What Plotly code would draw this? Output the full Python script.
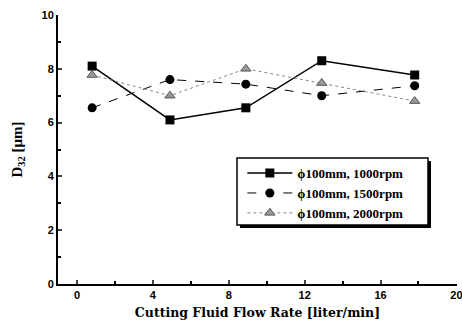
import plotly.graph_objects as go

flow_rate = [0.8, 4.9, 8.9, 12.9, 17.8]
d32_1000 = [8.1, 6.1, 6.55, 8.3, 7.77]
d32_1500 = [6.55, 7.6, 7.43, 7.0, 7.37]
d32_2000 = [7.77, 7.0, 8.0, 7.47, 6.8]
names = ["ϕ100mm, 1000rpm", "ϕ100mm, 1500rpm", "ϕ100mm, 2000rpm"]

SERIF = "Liberation Serif"
SANS = "Liberation Sans"

fig = go.Figure()
fig.add_trace(go.Scatter(x=flow_rate, y=d32_1000, name=names[0], mode="lines+markers",
                         line=dict(color="black", width=1.5),
                         marker=dict(symbol="square", size=9, color="black")))
fig.add_trace(go.Scatter(x=flow_rate, y=d32_1500, name=names[1], mode="lines+markers",
                         line=dict(color="black", width=1, dash="dash"),
                         marker=dict(symbol="circle", size=9, color="black")))
fig.add_trace(go.Scatter(x=flow_rate, y=d32_2000, name=names[2], mode="lines+markers",
                         line=dict(color="#888888", width=1, dash="dot"),
                         marker=dict(symbol="triangle-up", size=9, color="#999999",
                                     line=dict(color="#555555", width=1))))

fig.update_layout(
    width=462, height=329,
    margin=dict(l=58, r=5, t=15, b=45, autoexpand=False),
    paper_bgcolor="white", plot_bgcolor="white",
    font=dict(family=SERIF, size=11, color="black"),
    xaxis=dict(range=[-1, 20.03], tickvals=[0, 4, 8, 12, 16, 20], ticks="inside", ticklen=4,
               tickwidth=1.5, showline=True, linecolor="black", linewidth=2, showgrid=False,
               zeroline=False, tickfont=dict(family=SANS, size=11, weight="bold"),
               ticklabeloverflow="allow", automargin=False,
               minor=dict(tickvals=[2, 6, 10, 14, 18], ticks="inside", ticklen=3, tickcolor="black"),
               title=dict(text="Cutting Fluid Flow Rate [liter/min]", standoff=8,
                          font=dict(family="DejaVu Serif", size=12.5, weight="bold"))),
    yaxis=dict(range=[0, 10], tickvals=[0, 2, 4, 6, 8, 10], ticks="inside", ticklen=4,
               tickwidth=1.5, showline=True, linecolor="black", linewidth=2, showgrid=False,
               zeroline=False, tickfont=dict(family=SANS, size=11, weight="bold"),
               automargin=False,
               minor=dict(tickvals=[1, 3, 5, 7, 9], ticks="inside", ticklen=3, tickcolor="black"),
               title=dict(text="D<sub>32</sub> [μm]", standoff=15,
                          font=dict(family=SERIF, size=15, weight="bold"))),
    legend=dict(x=0.462, y=0.468, xanchor="left", yanchor="top", bgcolor="rgba(0,0,0,0)",
                borderwidth=0, tracegroupgap=0,
                font=dict(family=SERIF, size=13, weight="bold"), itemwidth=45),
    showlegend=True,
)

# legend box with drop shadow
fig.add_shape(type="rect", xref="paper", yref="paper", x0=0.456, x1=0.9348, y0=0.208, y1=0.457,
              fillcolor="black", line=dict(width=0), layer="above")
fig.add_shape(type="rect", xref="paper", yref="paper", x0=0.4486, x1=0.9273, y0=0.2193, y1=0.4684,
              fillcolor="white", line=dict(color="black", width=1.5), layer="above")

fig.write_html("out.html")
